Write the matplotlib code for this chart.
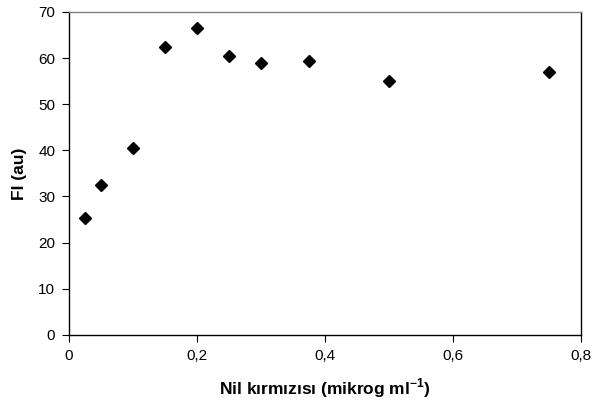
import numpy as np
import matplotlib
matplotlib.use('Agg')
import matplotlib.pyplot as plt
from matplotlib.ticker import FuncFormatter

#concentration (mikrog/ml) vs fluorescence intensity
nil_conc = [0.025, 0.05, 0.1, 0.15, 0.2, 0.25, 0.3, 0.375, 0.5, 0.75]
fi_au = [25.3, 32.4, 40.6, 62.4, 66.5, 60.4, 59.0, 59.4, 55.0, 57.0]

x_ticks = [0, 0.2, 0.4, 0.6, 0.8]
y_ticks = [0, 10, 20, 30, 40, 50, 60, 70]

plt.rcParams['font.family'] = ['Liberation Sans', 'DejaVu Sans']
plt.rcParams['mathtext.fontset'] = 'custom'
plt.rcParams['mathtext.rm'] = 'Liberation Sans:bold'
plt.rcParams['mathtext.bf'] = 'Liberation Sans:bold'
plt.rcParams['axes.unicode_minus'] = False

fig = plt.figure(figsize=(5.95, 4.09), dpi=100)
ax = fig.add_axes([0.116, 0.181, 0.86, 0.79])

ax.plot(nil_conc, fi_au, linestyle='none', marker='D', markersize=6.5,
        color='black', markeredgecolor='black')

ax.set_xlim(0, 0.8)
ax.set_ylim(0, 70)
ax.set_xticks(x_ticks)
ax.set_yticks(y_ticks)
ax.xaxis.set_major_formatter(FuncFormatter(lambda v, p: ('%g' % v).replace('.', ',')))
ax.tick_params(direction='out', length=5, width=0.8, labelsize=11, pad=5)

for s in ['left', 'bottom', 'right']:
    ax.spines[s].set_color('black')
    ax.spines[s].set_linewidth(1.0)
ax.spines['top'].set_color('#808080')
ax.spines['top'].set_linewidth(1.0)

ax.set_xlabel('Nil kırmızısı (mikrog ml$^{-1}$)', fontsize=12.5, fontweight='bold', labelpad=10)
ax.set_ylabel('FI (au)', fontsize=12.5, fontweight='bold', labelpad=8)

plt.savefig('out.png', dpi=100)
